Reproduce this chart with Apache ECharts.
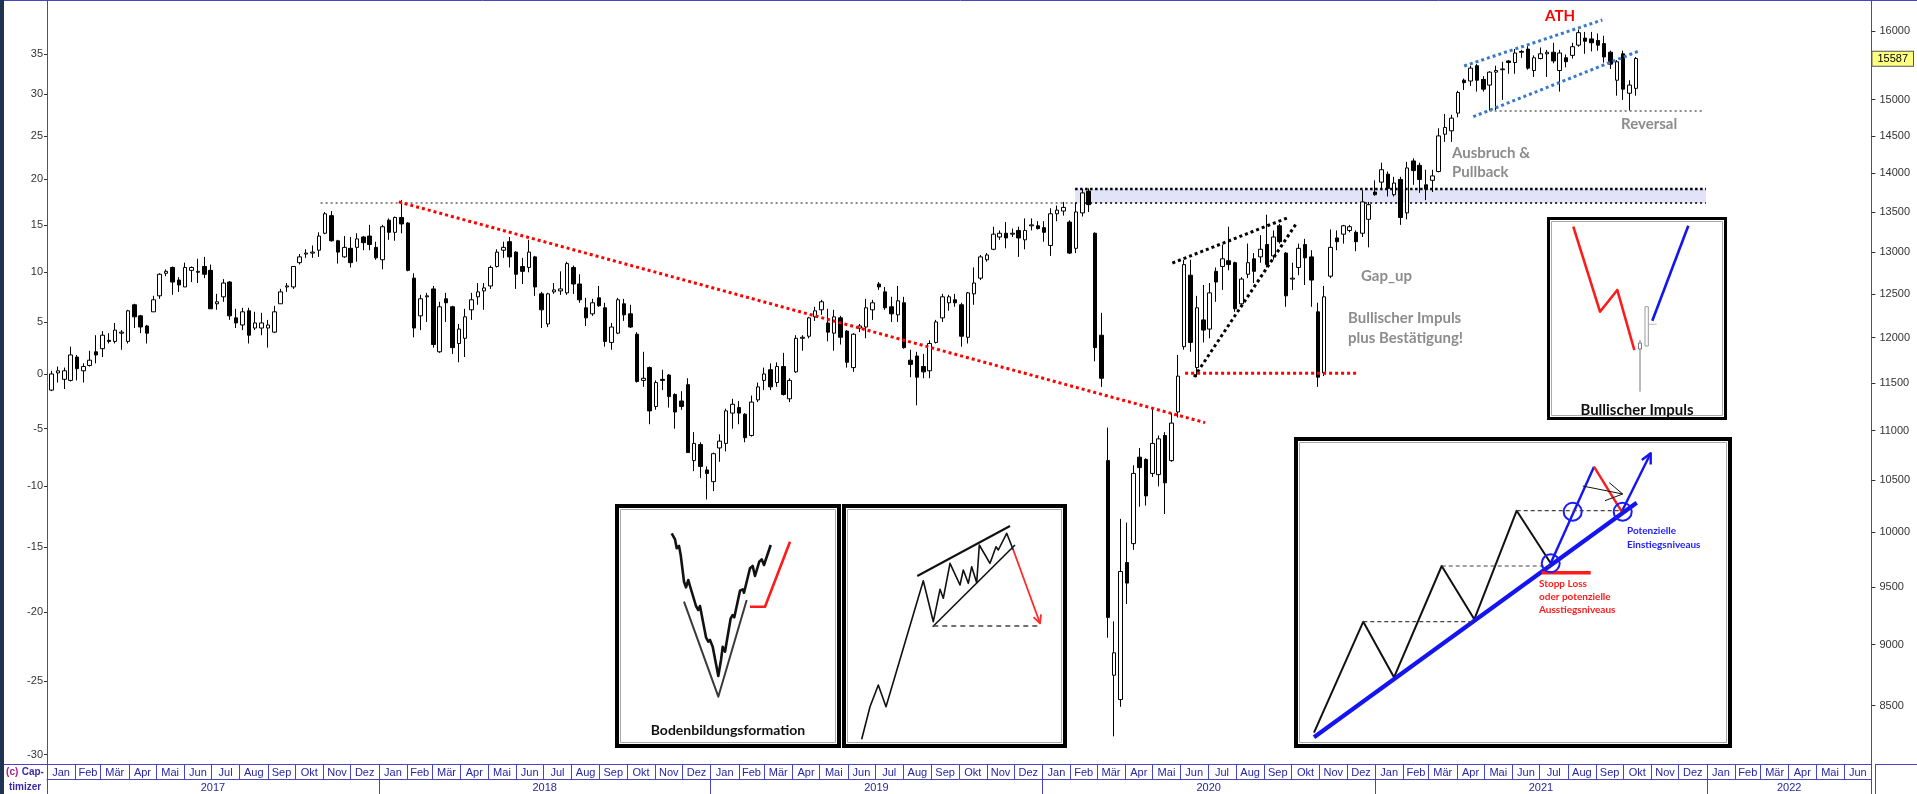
<!DOCTYPE html>
<html><head><meta charset="utf-8">
<script src="https://cdn.jsdelivr.net/npm/echarts@6/dist/echarts.min.js"></script>
<style>html,body{margin:0;padding:0;background:#fff;overflow:hidden}#c{width:1917px;height:794px}</style>
</head><body><div id="c"></div>
<script>
// ===== DATA (weekly candles, left axis = % vs first weekly close) =====
const FIRST_WEEK = [2017, 0, 6];           // Friday of the first weekly candle
const FIRST_CLOSE_POINTS = 11599;          // 0 % on the left axis (right axis in points)
const LAST_CLOSE_POINTS = 15587;           // highlighted price label
// [open, high, low, close] in %
const ohlc2017 = [
[-1.5,0.3,-1.6,0.0],[0.1,0.7,-0.8,0.3],[-0.5,0.6,-1.4,0.3],[-0.6,2.6,-0.7,1.8],[1.6,1.8,-0.6,0.5],
[0.3,1.0,-0.8,0.7],[0.8,2.2,0.7,1.3],[2.1,3.7,1.0,1.8],[2.4,4.1,1.6,3.7],[3.2,3.9,2.9,3.1],
[3.1,4.9,2.9,4.2],[3.9,4.2,2.3,4.0],[3.1,6.2,2.9,6.1],[6.7,6.8,4.4,5.5],[5.6,5.7,3.9,4.5],
[4.6,4.7,2.9,3.9],[6.0,7.6,6.0,7.2],[7.6,9.9,7.3,9.8],[9.9,10.3,9.6,10.1],[10.5,10.6,7.7,9.0],
[9.2,9.5,8.0,8.7],[8.5,11.0,8.5,10.5],[10.2,10.6,9.0,10.5],[10.0,11.4,8.9,10.1],[10.6,11.6,9.4,9.8],
[10.2,10.8,6.3,6.3],[6.8,7.8,6.2,7.0],[7.5,9.3,7.0,8.9],[9.0,9.1,5.2,5.6],[5.4,6.3,4.4,4.9],
[4.7,6.4,4.2,6.0],[6.1,6.4,2.9,3.7],[4.4,6.0,4.2,4.9],[4.4,5.9,3.7,4.9],[4.4,5.2,2.5,4.7],
[4.0,6.6,3.9,6.0],[6.8,8.3,6.8,8.0],[8.5,8.9,8.0,8.6],[8.5,10.6,8.3,10.6],[11.0,11.9,10.8,11.6],
[11.9,12.4,11.5,12.0],[12.0,12.8,11.5,12.1],[12.3,14.2,11.6,13.8],[14.1,16.4,14.0,16.2],[16.0,16.5,13.2,13.3],
[13.3,13.4,10.9,12.1],[11.6,13.8,11.5,12.6],[12.5,13.7,10.5,11.0],[12.6,14.1,11.1,13.5],[13.7,13.8,12.3,13.1],
[13.8,15.0,12.3,12.9],[12.6,13.2,11.3,11.5]
];
const ohlc2018 = [
[11.3,15.0,10.3,14.8],[15.5,15.7,13.4,14.2],[14.2,15.9,13.3,15.8],[15.8,17.7,14.1,15.1],[15.2,15.3,10.1,10.2],
[9.4,9.9,3.5,4.4],[5.6,7.7,4.2,7.3],[7.5,7.9,5.0,7.6],[8.3,8.6,2.5,2.8],[2.1,7.0,2.0,6.5],
[7.3,7.9,5.0,6.9],[6.5,6.6,1.9,2.5],[2.9,4.8,1.1,4.3],[3.4,6.3,1.6,5.5],[6.2,7.9,5.2,7.2],
[7.5,8.9,6.7,8.0],[8.1,8.9,6.2,8.4],[8.6,10.7,8.3,10.5],[10.6,12.4,10.5,12.1],[12.3,13.2,11.5,12.6],
[13.2,13.7,10.5,11.6],[12.1,12.2,8.3,9.8],[10.6,11.5,8.8,10.1],[10.5,13.4,10.0,12.1],[11.6,11.7,7.6,8.5],
[7.8,8.0,4.4,6.2],[4.8,7.9,4.5,7.8],[8.0,8.9,7.8,8.2],[8.1,10.1,7.7,8.3],[7.9,11.1,7.7,10.9],
[10.5,10.7,7.8,8.8],[8.8,9.8,6.9,7.2],[6.4,7.4,4.6,5.4],[5.8,7.3,5.6,6.9],[7.4,8.6,6.5,6.6],
[6.4,6.9,2.6,3.1],[3.0,4.9,2.3,4.5],[3.9,7.4,3.8,7.2],[6.8,7.3,5.1,5.7],[5.8,6.7,4.4,4.5],
[3.8,4.0,-0.8,-0.7],[-0.6,2.1,-1.2,-0.4],[0.6,0.7,-4.6,-3.4],[-3.0,-0.6,-3.3,-0.8],[-0.5,0.4,-1.5,-0.6],
[-0.1,0.0,-3.1,-2.1],[-1.9,-1.8,-5.0,-3.5],[-2.5,-1.6,-3.3,-3.0],[-1.0,-0.4,-7.1,-7.1],[-7.8,-5.3,-8.7,-6.3],
[-6.4,-6.2,-9.3,-8.3],[-8.6,-8.3,-11.1,-8.9]
];
const ohlc2019 = [
[-9.6,-7.1,-10.4,-7.2],[-6.7,-5.5,-7.9,-6.1],[-6.3,-3.2,-7.0,-3.4],[-3.6,-2.3,-5.0,-2.8],[-3.1,-2.5,-4.6,-3.6],
[-3.7,-3.6,-6.2,-5.8],[-5.6,-2.0,-5.7,-2.6],[-2.4,-0.8,-2.6,-1.2],[-0.6,0.6,-1.5,0.0],[0.4,1.0,-1.5,-1.2],
[-0.8,1.1,-1.2,0.7],[0.7,2.0,-2.0,-1.9],[-2.3,-0.4,-2.6,-0.6],[0.2,3.7,0.1,3.4],[3.4,3.7,2.2,3.5],
[3.6,5.5,3.4,5.4],[5.5,6.5,5.1,6.1],[6.2,7.2,5.7,7.0],[4.9,6.3,3.1,4.0],[3.9,6.2,2.2,5.5],
[5.4,5.6,2.8,3.5],[4.1,4.2,0.6,1.1],[0.6,3.9,0.2,3.8],[4.4,4.8,4.0,4.6],[4.5,7.3,3.4,6.4],
[6.2,7.2,5.2,6.9],[8.8,9.0,8.2,8.5],[8.0,8.5,6.2,6.4],[6.5,7.5,5.0,5.8],[5.7,8.6,5.0,7.1],
[6.9,7.5,2.4,2.5],[1.3,2.3,-0.3,0.9],[1.7,2.1,-2.9,-0.3],[0.7,1.9,-0.4,0.2],[0.3,3.2,-0.4,2.9],
[3.0,5.2,2.9,5.0],[5.4,7.8,5.0,7.5],[6.9,7.7,6.1,7.5],[7.2,7.8,6.5,6.9],[6.7,6.9,2.6,3.6],
[3.5,8.0,2.9,7.9],[7.8,10.5,6.7,8.9],[9.4,11.8,9.2,11.6],[11.3,12.0,11.1,11.8],[12.4,14.8,12.3,14.0],
[13.7,14.4,13.4,14.1],[14.1,15.3,12.5,13.6],[14.0,14.6,13.7,14.1],[14.4,14.8,11.6,13.6],[13.4,15.7,12.4,14.4],
[14.9,15.7,14.4,15.0],[14.9,15.4,14.5,14.6]
];
const ohlc2020 = [
[14.7,15.4,13.2,14.2],[12.8,16.8,11.7,16.2],[16.2,17.1,15.4,16.6],[16.5,17.5,16.0,16.9],[15.3,15.5,11.9,12.0],
[12.5,17.4,12.0,16.4],[16.3,18.9,15.9,18.5],[18.7,19.0,16.4,17.2],[14.1,14.2,1.2,2.5],[3.7,5.9,-1.2,-0.4],
[-7.8,-4.9,-21.9,-20.4],[-24.6,-20.7,-28.8,-23.0],[-26.3,-12.7,-26.8,-16.9],[-16.2,-13.0,-19.4,-17.8],[-14.7,-8.2,-15.2,-8.9],
[-7.5,-6.7,-11.7,-8.4],[-7.7,-7.6,-11.6,-10.8],[-8.9,-3.1,-9.2,-6.3],[-9.0,-5.6,-10.0,-5.9],[-5.6,-5.3,-12.3,-9.7],
[-7.8,-3.6,-7.9,-4.5],[-3.5,1.8,-4.0,-0.2],[2.6,11.3,2.3,10.8],[9.7,11.3,2.1,3.0],[0.6,7.6,-0.3,6.4],
[5.2,8.7,3.0,4.2],[4.3,8.9,3.4,7.9],[10.1,10.5,7.0,9.0],[10.6,12.9,8.2,11.4],[11.2,14.8,10.2,10.8],
[11.0,11.1,6.0,6.3],[6.8,9.5,6.7,9.3],[9.8,13.0,9.4,11.0],[11.4,12.0,8.9,10.1],[11.6,13.9,11.0,12.4],
[12.9,16.1,10.5,10.8],[11.7,14.4,11.3,13.7],[14.9,15.1,13.0,13.2],[12.0,12.1,6.5,7.6],[9.3,11.0,8.2,9.4],
[10.5,13.0,9.7,12.5],[12.9,13.5,8.7,11.5],[11.6,12.3,6.5,9.2],[6.0,6.9,-1.2,-0.3],[0.1,8.6,-0.2,7.5],
[9.6,14.5,9.4,12.6],[13.6,14.4,12.3,13.2],[14.0,15.0,13.0,14.9],[14.4,15.0,14.2,14.8],[14.2,14.4,12.2,13.2],
[14.1,18.8,13.7,17.5],[15.6,17.5,12.6,17.2]
];
const ohlc2021 = [
[18.6,19.9,18.2,18.3],[19.7,21.9,18.8,21.1],[20.6,20.9,18.1,19.0],[18.3,20.3,18.1,19.6],[20.0,20.3,15.0,15.8],
[16.3,22.0,15.6,21.3],[22.1,22.4,19.4,21.0],[21.6,21.9,18.5,20.0],[19.4,21.1,17.7,18.9],[19.9,21.1,18.6,20.4],
[20.9,25.9,20.8,25.0],[25.2,27.6,24.3,26.0],[25.6,27.5,24.3,27.1],[27.7,30.4,27.2,30.2],[31.7,31.9,30.5,31.4],
[31.6,33.5,31.0,33.2],[33.5,33.7,30.3,31.7],[31.8,32.2,30.3,30.6],[31.1,32.8,28.0,32.7],[32.7,33.5,28.0,32.9],
[33.0,34.0,29.3,33.1],[34.1,34.2,32.5,33.9],[33.9,35.6,32.5,35.1],[35.3,35.5,34.5,35.2],[35.6,36.2,33.0,33.2],
[32.9,34.8,32.1,34.5],[34.4,35.8,34.3,35.0],[35.0,35.5,32.1,35.2],[35.2,36.4,33.8,34.1],[32.9,35.5,30.3,35.1],
[34.5,34.9,33.3,34.0],[34.8,36.4,34.4,35.9],[36.1,38.1,35.9,37.7],[37.0,37.8,35.0,36.6],[36.9,37.8,35.3,36.4],
[36.7,37.6,35.4,36.1],[36.3,37.3,33.9,34.6],[35.2,35.4,33.1,33.7],[31.7,34.2,29.8,34.0],[35.0,35.4,29.3,30.6],
[30.1,31.7,28.0,31.1],[30.7,34.6,29.8,34.4]
];
// axis ticks
const LEFT_TICKS = [35,30,25,20,15,10,5,0,-5,-10,-15,-20,-25,-30];
const RIGHT_TICKS = [16000,15000,14500,14000,13500,13000,12500,12000,11500,11000,10500,10000,9500,9000,8500];
const MONTH_NAMES = ['Jan','Feb','Mär','Apr','Mai','Jun','Jul','Aug','Sep','Okt','Nov','Dez'];
const YEARS = [2017,2018,2019,2020,2021,2022];
const AXIS_START = '2017-01-01', AXIS_END = '2022-07-01';
const PCT_MIN = -30.62, PCT_MAX = 41.85;
// annotation lines [date, %]
const level2018High = [['2017-10-29',17.38],['2020-02-05',17.38]];
const downTrend     = [['2018-01-23',17.5],['2020-06-28',-4.46]];
const zoneTop       = [['2020-02-06',18.93],['2021-12-31',18.93]];
const zoneBottom    = [['2020-02-06',17.38],['2021-12-31',17.38]];
const wedgeUpper    = [['2020-05-23',10.96],['2020-09-29',15.85]];
const wedgeLower    = [['2020-06-16',-0.28],['2020-10-06',15.09]];
const impulseLevel  = [['2020-06-06',0.07],['2020-12-12',0.07]];
const channelUpper  = [['2021-04-09',33.47],['2021-09-08',39.35]];
const channelLower  = [['2021-04-19',27.27],['2021-10-19',35.39]];
const reversalLevel = [['2021-05-07',27.95],['2021-12-29',27.95]];

// ===== helpers =====
const toLn = p => Math.log(1 + p / 100);
const ts = s => { const [y,m,d] = s.split('-').map(Number); return new Date(y, m - 1, d).getTime(); };
const T0 = ts(AXIS_START), T1 = ts(AXIS_END);
const OHLC = [].concat(ohlc2017, ohlc2018, ohlc2019, ohlc2020, ohlc2021);
const weekTimes = OHLC.map((_, i) => new Date(FIRST_WEEK[0], FIRST_WEEK[1], FIRST_WEEK[2] + 7 * i).getTime());
const candleData = OHLC.map((r, i) => [weekTimes[i], toLn(r[0]), toLn(r[3]), toLn(r[2]), toLn(r[1])]);

const monthEdge = [], monthMid = [];
for (const y of YEARS) for (let m = 0; m < 12; m++) {
  const a = new Date(y, m, 1).getTime(); if (a >= T1) break;
  const b = new Date(y, m + 1, 1).getTime();
  monthEdge.push(a); monthMid.push((a + b) / 2);
}
monthEdge.push(T1);
const yearEdge = YEARS.map(y => new Date(y, 0, 1).getTime()).concat([T1]);
const yearMid = YEARS.map((y, i) => (yearEdge[i] + yearEdge[i + 1]) / 2);

const BLUE = '#4646c4', BLUE_TXT = '#2525a6';
const YMIN = toLn(PCT_MIN), YMAX = toLn(PCT_MAX);

const dotted = (pts, color, width, dash, z, extra) => Object.assign({
  type: 'line', data: pts.map(p => [ts(p[0]), toLn(p[1])]), symbol: 'none', silent: true, z,
  lineStyle: { color, width, type: dash, cap: 'butt' }, animation: false
}, extra || {});

// ===== graphics (frame, texts, inset sketches) =====
const T = (text, x, y, color, size, align, extra) => Object.assign({
  type: 'text', x, y, z: 120,
  style: { text, fill: color, fontSize: size, fontWeight: 'bold', fontFamily: 'Lato', align: align || 'left', verticalAlign: 'middle' }
}, extra || {});
const L = (pts, color, w, z, dash) => ({ type: 'polyline', z: z || 110, shape: { points: pts },
  style: { stroke: color, lineWidth: w, fill: null, lineDash: dash || null, lineJoin: 'round' } });
const box = (x, y, w, h, lw) => [
  { type: 'rect', z: 100, shape: { x, y, width: w, height: h }, style: { fill: '#fff', stroke: '#000', lineWidth: lw } },
  { type: 'rect', z: 101, shape: { x: x + lw / 2 + 1.5, y: y + lw / 2 + 1.5, width: w - lw - 3, height: h - lw - 3 }, style: { fill: null, stroke: '#a8a8a8', lineWidth: 1 } }
];
const circ = (cx, cy) => ({ type: 'circle', z: 112, shape: { cx, cy, r: 9 }, style: { fill: null, stroke: '#1a1aff', lineWidth: 2 } });

const graphics = [
  { type: 'rect', z: 130, shape: { x: 0, y: 0, width: 4, height: 794 }, style: { fill: '#1f3452' } },
  { type: 'line', z: 130, shape: { x1: 4, y1: 0.5, x2: 1917, y2: 0.5 }, style: { stroke: BLUE, lineWidth: 1 } },
  { type: 'line', z: 130, shape: { x1: 4, y1: 764.5, x2: 47, y2: 764.5 }, style: { stroke: BLUE, lineWidth: 1 } },
  { type: 'line', z: 130, shape: { x1: 1875, y1: 764.5, x2: 1917, y2: 764.5 }, style: { stroke: BLUE, lineWidth: 1 } },
  { type: 'line', z: 130, shape: { x1: 47.5, y1: 764, x2: 47.5, y2: 794 }, style: { stroke: BLUE, lineWidth: 1 } },
  { type: 'line', z: 130, shape: { x1: 1875.5, y1: 764, x2: 1875.5, y2: 794 }, style: { stroke: BLUE, lineWidth: 1 } },
  { type: 'text', z: 130, x: 25, y: 772, style: { text: '{a|(c)} {b|Cap-}', align: 'center', verticalAlign: 'middle',
      rich: { a: { fill: '#b0158f', fontSize: 10, fontWeight: 'bold', fontFamily: 'Liberation Sans' }, b: { fill: '#3a2aa8', fontSize: 10, fontWeight: 'bold', fontFamily: 'Liberation Sans' } } } },
  { type: 'text', z: 130, x: 25, y: 787, style: { text: 'timizer', fill: '#3a2aa8', fontSize: 10, fontWeight: 'bold', fontFamily: 'Liberation Sans', align: 'center', verticalAlign: 'middle' } },

  // chart annotations
  T('ATH', 1560, 16, '#ff0000', 15, 'center'),
  T('Reversal', 1621, 124, '#8c8c8c', 15),
  T('Ausbruch &', 1452, 153, '#8c8c8c', 15),
  T('Pullback', 1452, 172, '#8c8c8c', 15),
  T('Gap_up', 1361, 276, '#8c8c8c', 15),
  T('Bullischer Impuls', 1348, 318, '#8c8c8c', 15),
  T('plus Bestätigung!', 1348, 338, '#8c8c8c', 15),

  // inset 1: Bodenbildungsformation
  ...box(617, 506, 222, 240, 4),
  L([[684,601.7],[718.3,696.7],[746.7,600]], '#3a3a3a', 2),
  L([[671.7,533.3],[675,539.3],[676.7,548.3],[679,546],[680.7,555],[684,581.7],[686,587.3],[688.3,580],[690,586],[696,606],[698.3,610],[700,606],[701.7,615],[706,637.3],[708.3,641.7],[710,640],[712.7,646.7],[718.3,676],[721,660],[722.7,646.7],[725,651.7],[730.7,618.3],[732.7,615],[734.3,617.3],[740,590.7],[742.7,589.3],[744,592.7],[750,568.3],[752.7,566],[755,576],[759.3,561.7],[761.7,559.3],[764,565],[770.7,545]], '#111', 2.6),
  L([[750,606.7],[765,606.7],[790,541.7]], '#ff1a1a', 2.6),
  T('Bodenbildungsformation', 728, 730, '#111', 14, 'center'),

  // inset 2: rising wedge
  ...box(844, 506, 221, 240, 4),
  L([[861.7,739.3],[870,706.7],[878.3,685],[886,706.7],[923.3,580.7],[933.3,621.7],[940,589.3],[943.3,598.3],[950,563.3],[960,585],[963.3,570],[968.3,583.3],[971.7,566.7],[976.7,582.7],[979.3,545],[990,563.3],[996,546.7],[998.3,550],[1006.7,533.3],[1013.3,550]], '#111', 1.6),
  L([[917.3,576],[1010,526]], '#111', 2),
  L([[932.7,626.7],[1015,545]], '#111', 1.6),
  L([[933.3,626],[1040.7,626]], '#444', 1.3, 111, [5, 4]),
  L([[1013.3,550],[1040,623.3]], '#ff2a2a', 1.8),
  L([[1033.5,617.2],[1040,623.3],[1041,614.4]], '#ff2a2a', 1.8),

  // inset 3: trend channel with entries
  ...box(1296, 439, 434, 307, 4),
  L([[1363.3,621.7],[1474.3,621.7]], '#444', 1.2, 111, [4, 3]),
  L([[1441.7,566],[1550.7,566]], '#444', 1.2, 111, [4, 3]),
  L([[1516.7,510.7],[1623.3,510.7]], '#444', 1.2, 111, [4, 3]),
  L([[1314,732.7],[1363.3,621.7],[1394,677.3],[1441.7,566],[1474.3,619.3],[1516.7,510.7],[1550.7,563.3]], '#111', 2),
  L([[1314,737.3],[1636.7,502.7]], '#1414f0', 4.2),
  L([[1550.7,563.3],[1594,466.7]], '#1414f0', 2.4),
  L([[1594,466.7],[1621.7,511.7]], '#ff1a1a', 2.4),
  L([[1621.7,511.7],[1650.7,453.3]], '#1414f0', 2.4),
  L([[1641.8,460],[1650.7,453.3],[1650.7,464.5]], '#1414f0', 2.4),
  L([[1582.7,486],[1622.7,494]], '#111', 1),
  L([[1609.3,482.7],[1622.7,494],[1605,500.7]], '#111', 1),
  circ(1550.7, 563.3), circ(1572.7, 511.7), circ(1622.7, 511.7),
  L([[1541.7,572.7],[1590.7,572.7]], '#ff1a1a', 3.6),
  T('Stopp Loss', 1539, 584, '#ff1a1a', 10),
  T('oder potenzielle', 1539, 597, '#ff1a1a', 10),
  T('Ausstiegsniveaus', 1539, 610, '#ff1a1a', 10),
  T('Potenzielle', 1627, 531, '#2020ff', 10),
  T('Einstiegsniveaus', 1627, 545, '#2020ff', 10),

  // inset 4: Bullischer Impuls
  ...box(1548.5, 218.5, 177, 200, 3),
  L([[1573.3,226.7],[1600,311.7],[1617.3,290],[1634.3,350]], '#ff1a1a', 2.6),
  L([[1640,340],[1640,391.7]], '#777', 1),
  { type: 'rect', z: 112, shape: { x: 1638.5, y: 343, width: 3, height: 6 }, style: { fill: '#fff', stroke: '#777', lineWidth: 1 } },
  { type: 'rect', z: 112, shape: { x: 1645, y: 306.7, width: 3.3, height: 39.3 }, style: { fill: '#fff', stroke: '#999', lineWidth: 1 } },
  L([[1648.3,324.3],[1656.7,324.3]], '#bbb', 1),
  L([[1652.3,320.7],[1688.3,225.7]], '#1414f0', 2.6),
  T('Bullischer Impuls', 1637, 410, '#111', 15, 'center')
];

// ===== chart =====
const chart = echarts.init(document.getElementById('c'), null, { renderer: 'canvas' });
chart.setOption({
  animation: false,
  backgroundColor: '#fff',
  grid: { left: 47, right: 42, top: 1, bottom: 30 },
  xAxis: [
    { type: 'value', min: T0, max: T1, position: 'bottom', scale: true,
      axisLine: { onZero: false, lineStyle: { color: BLUE, width: 1 } },
      axisTick: { show: true, customValues: monthEdge, length: 15, lineStyle: { color: BLUE, width: 1 } },
      axisLabel: { customValues: monthMid, formatter: v => MONTH_NAMES[new Date(v).getMonth()],
        color: BLUE_TXT, fontSize: 11, fontFamily: 'Liberation Sans', margin: 3 },
      splitLine: { show: false } },
    { type: 'value', min: T0, max: T1, position: 'bottom', offset: 15, scale: true,
      axisLine: { onZero: false, lineStyle: { color: BLUE, width: 1 } },
      axisTick: { show: true, customValues: yearEdge, length: 15, lineStyle: { color: BLUE, width: 1 } },
      axisLabel: { customValues: yearMid, formatter: v => String(new Date(v).getFullYear()),
        color: BLUE_TXT, fontSize: 11, fontFamily: 'Liberation Sans', margin: 3 },
      splitLine: { show: false } }
  ],
  yAxis: [
    { type: 'value', position: 'left', min: YMIN, max: YMAX,
      axisLine: { show: true, onZero: false, lineStyle: { color: BLUE } },
      axisTick: { show: true, customValues: LEFT_TICKS.map(toLn), length: 3, lineStyle: { color: '#333' } },
      axisLabel: { customValues: LEFT_TICKS.map(toLn), formatter: v => String(Math.round((Math.exp(v) - 1) * 100)),
        color: '#333', fontSize: 11, fontFamily: 'Liberation Sans', margin: 4 },
      splitLine: { show: false } },
    { type: 'value', position: 'right', min: YMIN, max: YMAX,
      axisLine: { show: true, onZero: false, lineStyle: { color: BLUE } },
      axisTick: { show: true, customValues: RIGHT_TICKS.map(p => Math.log(p / FIRST_CLOSE_POINTS)), length: 4, lineStyle: { color: '#333' } },
      axisLabel: { customValues: RIGHT_TICKS.map(p => Math.log(p / FIRST_CLOSE_POINTS)),
        formatter: v => String(Math.round(FIRST_CLOSE_POINTS * Math.exp(v))),
        color: '#333', fontSize: 11, fontFamily: 'Liberation Sans', margin: 8 },
      splitLine: { show: false } },
    { type: 'value', position: 'right', min: YMIN, max: YMAX,
      axisLine: { show: false }, axisTick: { show: false }, splitLine: { show: false },
      axisLabel: { customValues: [Math.log(LAST_CLOSE_POINTS / FIRST_CLOSE_POINTS)], margin: 1,
        formatter: () => '{hl|' + LAST_CLOSE_POINTS + '}',
        rich: { hl: { backgroundColor: '#ffff80', borderColor: '#555', borderWidth: 1, padding: [2, 5, 1, 5],
          color: '#000', fontSize: 11, fontFamily: 'Liberation Sans' } } } }
  ],
  series: [
    dotted(zoneBottom, '#333', 2, [2, 3], 1, {
      markArea: { silent: true, itemStyle: { color: '#e2e2f8' },
        data: [[{ coord: [ts(zoneTop[0][0]), toLn(zoneTop[0][1])] }, { coord: [ts(zoneTop[1][0]), toLn(zoneBottom[1][1])] }]] } }),
    { type: 'candlestick', z: 3, barWidth: 4, data: candleData, silent: true,
      itemStyle: { color: '#ffffff', color0: '#000000', borderColor: '#000000', borderColor0: '#000000', borderWidth: 1 } },
    dotted(level2018High, '#8a8a8a', 2, [2, 3], 4),
    dotted(downTrend, '#ff0000', 3, [3, 3], 5),
    dotted(zoneTop, '#000', 2.5, [2.5, 2.5], 5),
    dotted(wedgeUpper, '#000', 3, [3, 3], 5),
    dotted(wedgeLower, '#000', 3, [3, 3], 5),
    dotted(impulseLevel, '#ff0000', 3, [3, 3], 5),
    dotted(channelUpper, '#3a78c8', 3, [3, 3], 5),
    dotted(channelLower, '#3a78c8', 3, [3, 3], 5),
    dotted(reversalLevel, '#8a8a8a', 2, [2, 3], 5)
  ],
  graphic: { elements: graphics }
});
</script>
</body></html>
